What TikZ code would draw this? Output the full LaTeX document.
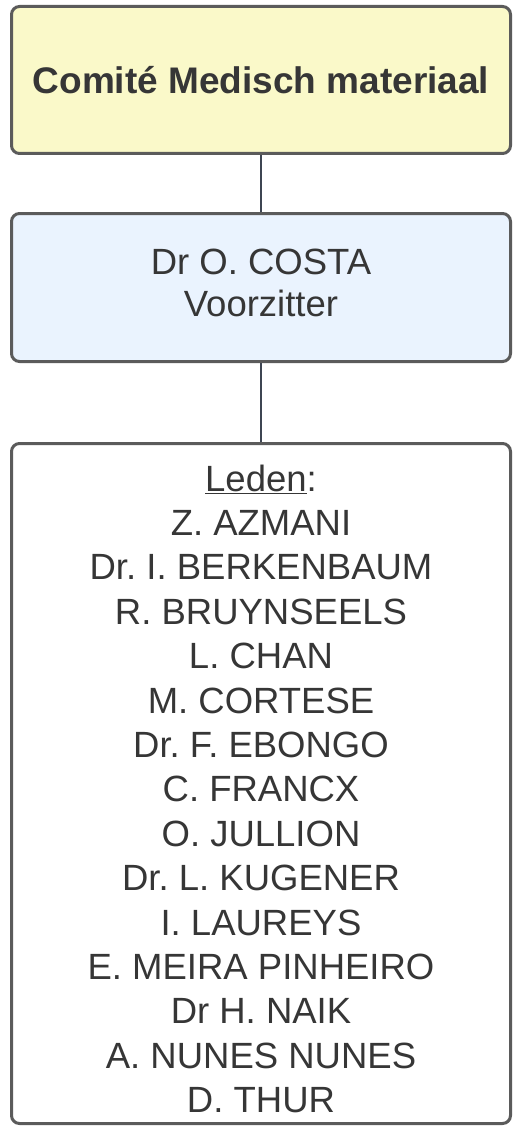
\documentclass[tikz,border=0pt]{standalone}
\usepackage{fontspec}
\setmainfont{Liberation Sans}
\usepackage{tikz}
\usetikzlibrary{positioning}
\definecolor{boxline}{HTML}{5B5B5B}
\definecolor{linkline}{HTML}{3E4552}
\definecolor{comiteyellow}{HTML}{FAF9C9}
\definecolor{chairblue}{HTML}{EAF3FE}
\definecolor{textgray}{HTML}{363636}
\frenchspacing

\begin{document}
\begin{tikzpicture}[x=1pt, y=1pt, semithick, node distance=57pt,
  font=\fontsize{36.5}{44.4}\selectfont]
\tikzstyle{orgbox}=[draw=boxline, line width=3pt, rounded corners=8pt,
  minimum width=499pt, inner sep=0pt, align=center, text=textgray]
\tikzstyle{orglink}=[draw=linkline, line width=2.4pt]
\useasboundingbox (0,0) rectangle (514,-1126);
\node[orgbox, fill=comiteyellow, minimum height=147pt, font=\fontsize{37}{44.3}\selectfont\bfseries]
  (comite) at (261,-80) {Comité Medisch materiaal};
\node[orgbox, fill=chairblue, minimum height=148pt, text depth=10pt,
  font=\fontsize{36.5}{42}\selectfont]
  (voorzitter) [below=57pt of comite] {Dr O. COSTA\\Voorzitter};
\node[orgbox, fill=white, minimum height=680pt]
  (leden) [below=79pt of voorzitter] {\rule{0pt}{37pt}\underline{Leden}:\\
  Z. AZMANI\\
  Dr. I. BERKENBAUM\\
  R. BRUYNSEELS\\
  L. CHAN\\
  M. CORTESE\\
  Dr. F. EBONGO\\
  C. FRANCX\\
  O. JULLION\\
  Dr. L. KUGENER\\
  I. LAUREYS\\
  E. MEIRA PINHEIRO\\
  Dr H. NAIK\\
  A. NUNES NUNES\\
  D. THUR};
\path
(comite) edge[orglink] (voorzitter)
(voorzitter) edge[orglink] (leden);
\end{tikzpicture}
\end{document}
